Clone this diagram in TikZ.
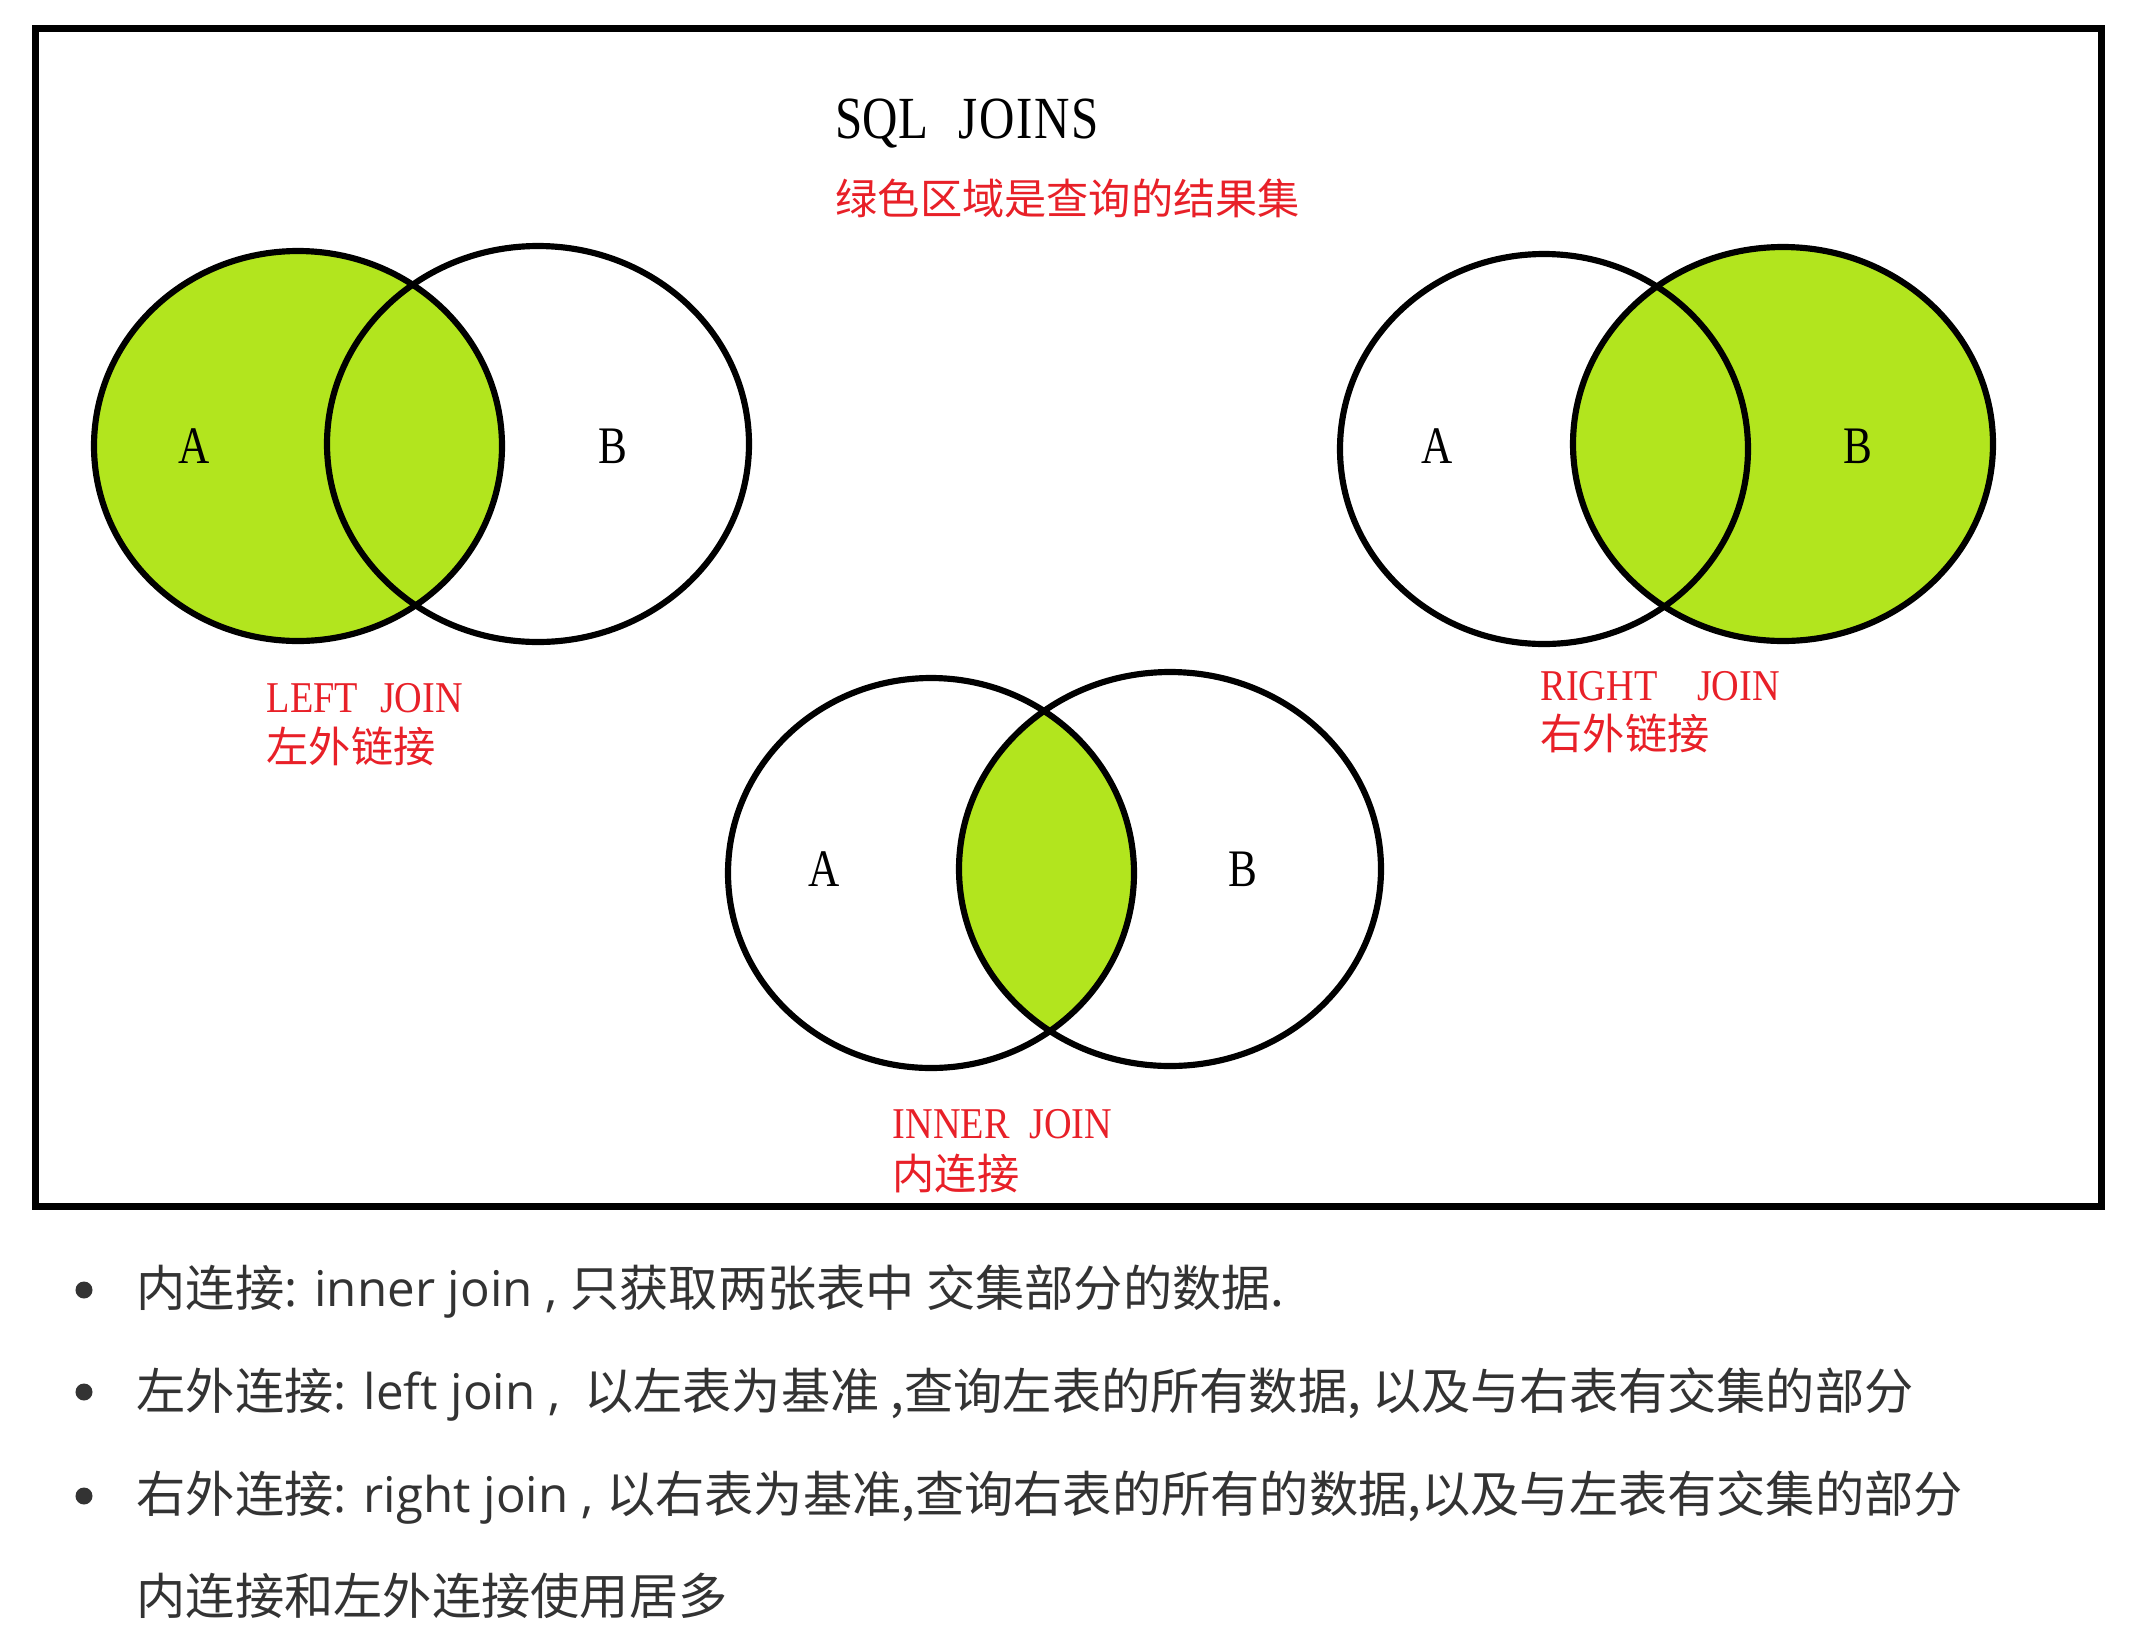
\documentclass[tikz,border=0pt]{standalone}
\usepackage{fontspec}
\setmainfont{Liberation Serif}
\newfontfamily\cjk{Noto Sans CJK SC}
\newfontfamily\simlatin[FakeStretch=0.82]{Liberation Serif}
\newfontfamily\redlatin[FakeStretch=0.87]{Liberation Serif}
\newfontfamily\osans{Open Sans}
\newcommand{\en}[1]{{\osans #1}}
\definecolor{joingreen}{RGB}{178,229,30}
\definecolor{joinred}{RGB}{232,32,40}
\definecolor{notegray}{RGB}{51,51,51}
\begin{document}
\begin{tikzpicture}[x=0.01cm,y=-0.01cm]
            \tikzstyle{setline}=[line width=1.75pt]
            \tikzstyle{setname}=[inner sep=0pt, font=\fontsize{15}{15}\simlatin]
            \tikzstyle{joinname}=[anchor=base west, inner sep=0pt, text=joinred, font=\fontsize{12.5}{12.5}\redlatin]
            \tikzstyle{joincn}=[anchor=base west, inner sep=0pt, text=joinred, font=\fontsize{12}{12}\cjk]
            \tikzstyle{dot}=[circle, fill=notegray, inner sep=0pt, minimum size=0.17cm]
            \tikzstyle{note}=[anchor=base west, inner sep=0pt, text=notegray, font=\fontsize{14}{14}\cjk]
            \useasboundingbox (0,0) rectangle (2130,1636);
            \draw[line width=2pt] (35.5,28.5) rectangle (2101,1206);
            \node[anchor=base west, inner sep=0pt, font=\fontsize{17}{17}\simlatin] (title) at (835,138) {SQL\hspace{0.5em}J\hspace{0.03em}O\hspace{0.03em}I\hspace{0.03em}N\hspace{0.03em}S};
            \node[joincn] (subtitle) at (835,214) {绿色区域是查询的结果集};
            \coordinate (la) at (298,446);
            \coordinate (lb) at (538,444);
            \coordinate (ra) at (1544,449);
            \coordinate (rb) at (1783,444);
            \coordinate (ia) at (931,873);
            \coordinate (ib) at (1170,869);
            \fill[joingreen] (la) ellipse [x radius=204, y radius=195];
            \fill[joingreen] (rb) ellipse [x radius=210, y radius=197];
            \begin{scope}
                \clip (ia) ellipse [x radius=203, y radius=195];
                \fill[joingreen] (ib) ellipse [x radius=211, y radius=197];
            \end{scope}
            \draw[setline] (la) ellipse [x radius=204, y radius=195];
            \draw[setline] (lb) ellipse [x radius=211, y radius=198];
            \draw[setline] (ra) ellipse [x radius=204, y radius=195];
            \draw[setline] (rb) ellipse [x radius=210, y radius=197];
            \draw[setline] (ia) ellipse [x radius=203, y radius=195];
            \draw[setline] (ib) ellipse [x radius=211, y radius=197];
            \node[setname] (la-name) at (194,446) {A};
            \node[setname] (lb-name) at (613,446) {B};
            \node[setname] (ra-name) at (1437,446) {A};
            \node[setname] (rb-name) at (1858,446) {B};
            \node[setname] (ia-name) at (824,869) {A};
            \node[setname] (ib-name) at (1243,869) {B};
            \node[joinname] (left-en) at (266,712) {LEFT\hspace{0.5em}JOIN};
            \node[joincn] (left-cn) at (266,762) {左外链接};
            \node[joinname] (right-en) at (1540,700) {RIGHT\hspace{0.9em}JOIN};
            \node[joincn] (right-cn) at (1540,749) {右外链接};
            \node[joinname] (inner-en) at (892,1138) {INNER\hspace{0.45em}JOIN};
            \node[joincn] (inner-cn) at (892,1189) {内连接};
            \node[dot] (dot1) at (84,1290) {};
            \node[dot] (dot2) at (84,1392) {};
            \node[dot] (dot3) at (84,1496) {};
            \node[note] (note1) at (136,1306) {内连接\en{: inner join , }只获取两张表中 交集部分的数据.};
            \node[note] (note2) at (136,1409) {左外连接\en{: left join , } 以左表为基准 ,查询左表的所有数据, 以及与右表有交集的部分};
            \node[note] (note3) at (136,1512) {右外连接\en{: right join , }以右表为基准,查询右表的所有的数据,以及与左表有交集的部分};
            \node[note] (note4) at (136,1614) {内连接和左外连接使用居多};
        \end{tikzpicture}
\end{document}
